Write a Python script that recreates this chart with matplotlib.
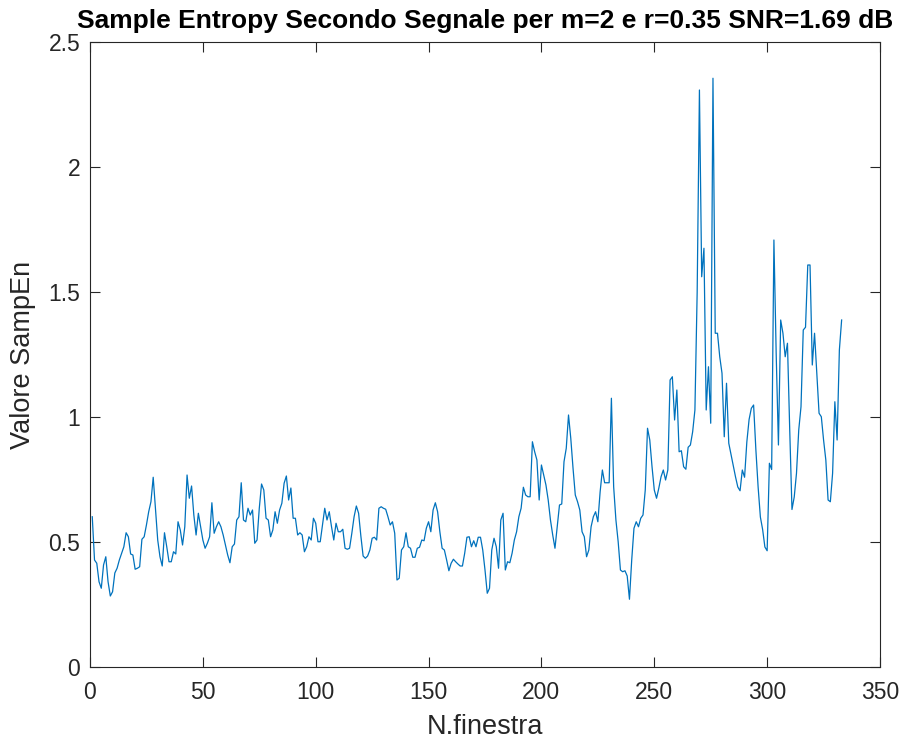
import matplotlib
matplotlib.use('Agg')
import matplotlib.pyplot as plt
import numpy as np

# SampEn per finestra (m=2, r=0.35), secondo segnale
sampen = [
    0.601, 0.428, 0.415, 0.341, 0.315, 0.408, 0.441, 0.341, 0.284, 0.301,
    0.376, 0.395, 0.428, 0.455, 0.481, 0.537, 0.521, 0.452, 0.448, 0.391,
    0.395, 0.401, 0.511, 0.521, 0.568, 0.621, 0.661, 0.759, 0.635, 0.508,
    0.441, 0.404, 0.537, 0.481, 0.421, 0.421, 0.461, 0.452, 0.581, 0.548,
    0.488, 0.561, 0.768, 0.675, 0.724, 0.608, 0.528, 0.615,
    0.561, 0.508, 0.475, 0.495, 0.521, 0.657, 0.535, 0.561, 0.581, 0.561,
    0.528, 0.488, 0.448, 0.417, 0.481, 0.492, 0.588, 0.601, 0.737, 0.588,
    0.581, 0.635, 0.608, 0.628, 0.495, 0.508, 0.635, 0.732, 0.708, 0.595,
    0.588, 0.521, 0.548, 0.621, 0.575, 0.628, 0.655, 0.735, 0.764, 0.668,
    0.716, 0.595, 0.595, 0.528,
    0.537, 0.528, 0.461, 0.481, 0.521, 0.508, 0.595, 0.575, 0.501, 0.501,
    0.568, 0.635, 0.588, 0.621, 0.561, 0.508, 0.575, 0.541, 0.541, 0.551,
    0.475, 0.471, 0.475, 0.535, 0.601, 0.644, 0.615, 0.524, 0.444, 0.435,
    0.444, 0.468, 0.515, 0.519, 0.508, 0.635, 0.641, 0.635, 0.631, 0.601,
    0.568, 0.581, 0.535, 0.348, 0.355,
    0.468, 0.481, 0.537, 0.481, 0.475, 0.439, 0.439, 0.475, 0.479, 0.508,
    0.505, 0.555, 0.581, 0.541, 0.628, 0.657, 0.621, 0.541, 0.475, 0.468,
    0.428, 0.385, 0.415, 0.431, 0.421, 0.412, 0.404, 0.404, 0.455, 0.519,
    0.521, 0.481, 0.505, 0.481, 0.519, 0.519, 0.468, 0.388, 0.295, 0.315,
    0.468, 0.515, 0.481, 0.395, 0.588,
    0.615, 0.388, 0.421, 0.417, 0.455, 0.508, 0.541, 0.601, 0.635, 0.719,
    0.688, 0.681, 0.681, 0.901, 0.861, 0.828, 0.668, 0.808, 0.768, 0.728,
    0.668, 0.588, 0.528, 0.475, 0.561, 0.648, 0.652, 0.821, 0.875, 1.008,
    0.915, 0.795, 0.688, 0.661, 0.628, 0.541, 0.521, 0.441, 0.468, 0.561,
    0.601, 0.621, 0.581, 0.700,
    0.788, 0.737, 0.737, 0.737, 1.075, 0.721, 0.588, 0.501, 0.388, 0.381,
    0.385, 0.364, 0.271, 0.428, 0.555, 0.581, 0.561, 0.595, 0.608, 0.708,
    0.955, 0.908, 0.801, 0.708, 0.675, 0.715, 0.761, 0.788, 0.748, 0.788,
    1.148, 1.161, 0.988, 1.108, 0.861, 0.865, 0.801, 0.791, 0.879, 0.888,
    0.941, 1.028,
    1.500, 2.308, 1.561, 1.675, 1.028, 1.201, 0.975, 2.355, 1.335, 1.335,
    1.241, 1.175, 0.921, 1.135, 0.895, 0.850, 0.805, 0.760, 0.720, 0.705,
    0.788, 0.759, 0.900, 0.990, 1.035, 1.048, 0.870, 0.720, 0.600, 0.550,
    0.480, 0.465, 0.815, 0.790,
    1.708, 1.255, 0.888, 1.388, 1.335, 1.241, 1.295, 0.950, 0.630, 0.680,
    0.775, 0.948, 1.041, 1.348, 1.359, 1.608, 1.608, 1.208, 1.335, 1.175,
    1.015, 1.001, 0.908, 0.828, 0.668, 0.661, 0.775, 1.061, 0.908, 1.268,
    1.388,
]
finestra = np.arange(1, len(sampen) + 1)

xticks = [0, 50, 100, 150, 200, 250, 300, 350]
yticks = [0, 0.5, 1, 1.5, 2, 2.5]
ytick_labels = ['0', '0.5', '1', '1.5', '2', '2.5']

plt.rcParams['font.family'] = ['Liberation Sans', 'DejaVu Sans']
grey = '#262626'

fig = plt.figure(figsize=(9.08, 7.45), dpi=100)
ax = fig.add_axes([90 / 908, 78 / 745, 790 / 908, 625 / 745])

ax.plot(finestra, sampen, color='#0072BD', linewidth=0.9)

ax.set_xlim(0, 350)
ax.set_ylim(0, 2.5)
ax.set_xticks(xticks)
ax.set_yticks(yticks)
ax.set_xticklabels([str(t) for t in xticks])
ax.set_yticklabels(ytick_labels)

ax.tick_params(direction='in', length=7, width=0.8, colors=grey,
               labelsize=16.5, top=True, right=True)
ax.tick_params(axis='x', pad=10)
ax.tick_params(axis='y', pad=7)
for s in ax.spines.values():
    s.set_color(grey)
    s.set_linewidth(0.8)

ax.set_xlabel('N.finestra', fontsize=19.5, color=grey, labelpad=7)
ax.set_ylabel('Valore SampEn', fontsize=19.5, color=grey, labelpad=9)
ax.set_title('Sample Entropy Secondo Segnale per m=2 e r=0.35 SNR=1.69 dB',
             fontsize=19, fontweight='bold', color='black', pad=10)

fig.savefig('out.png', dpi=100)
